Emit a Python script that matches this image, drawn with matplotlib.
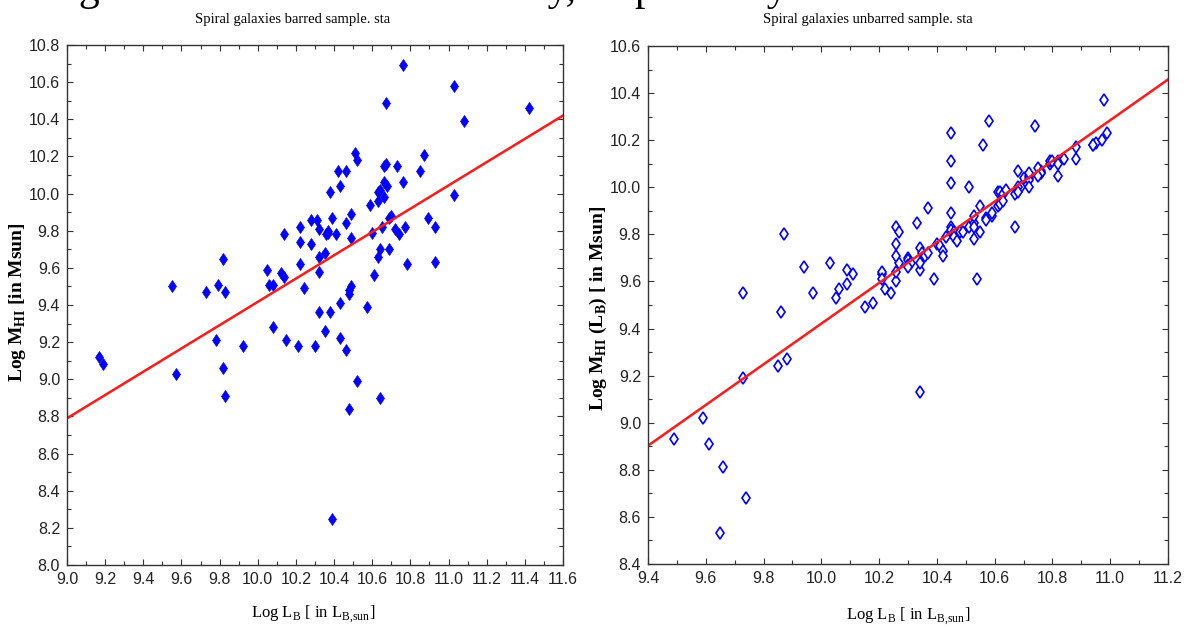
import numpy as np
import matplotlib.pyplot as plt
from matplotlib.ticker import MultipleLocator

# barred sample: log L_B, log M_HI
barred_logLB = [9.17, 9.19, 9.57, 9.78, 9.82, 9.83, 9.92, 10.08, 10.15, 10.21,
                9.55, 9.73, 9.79, 9.82, 9.83, 10.05, 10.06, 10.08, 10.12, 10.14,
                10.14, 10.22, 10.22, 10.22, 10.51, 10.52, 10.42, 10.46, 10.43, 10.38,
                10.66, 10.67, 10.73, 10.66, 10.68, 10.63, 10.64, 10.66, 10.63, 10.59,
                10.69, 10.70, 10.72, 10.74, 10.65, 10.60, 10.64, 10.69, 10.63, 10.61,
                10.57, 10.64, 10.52, 10.48, 10.49, 10.46, 10.49, 10.39, 10.37, 10.37,
                10.36, 10.41, 10.31, 10.28, 10.32, 10.28, 10.35, 10.32, 10.32, 10.24,
                10.49, 10.48, 10.48, 10.43, 10.38, 10.32, 10.35, 10.43, 10.46, 10.30,
                10.76, 10.67, 11.03, 11.08, 11.42, 10.87, 10.85, 10.76, 11.03, 10.89,
                10.93, 10.77, 10.78, 10.93, 10.39]
barred_logMHI = [9.12, 9.08, 9.03, 9.21, 9.06, 8.91, 9.18, 9.28, 9.21, 9.18,
                 9.50, 9.47, 9.51, 9.65, 9.47, 9.59, 9.51, 9.51, 9.57, 9.55,
                 9.78, 9.62, 9.74, 9.82, 10.22, 10.18, 10.12, 10.12, 10.04, 10.01,
                 10.15, 10.16, 10.15, 10.06, 10.04, 10.01, 10.02, 9.98, 9.96, 9.94,
                 9.87, 9.88, 9.81, 9.78, 9.82, 9.79, 9.70, 9.70, 9.66, 9.56,
                 9.39, 8.90, 8.99, 8.84, 9.89, 9.84, 9.76, 9.87, 9.80, 9.79,
                 9.78, 9.78, 9.86, 9.86, 9.81, 9.73, 9.68, 9.66, 9.58, 9.49,
                 9.50, 9.48, 9.46, 9.41, 9.36, 9.36, 9.26, 9.22, 9.16, 9.18,
                 10.69, 10.49, 10.58, 10.39, 10.46, 10.21, 10.12, 10.06, 9.99, 9.87,
                 9.82, 9.82, 9.62, 9.63, 8.25]

# unbarred sample
unbarred_logLB = [9.49, 9.59, 9.61, 9.66, 9.65, 9.74, 9.73, 9.85, 9.86, 9.88,
                  9.73, 9.87, 9.94, 9.97, 10.03, 10.05, 10.06, 10.09, 10.09, 10.11,
                  10.15, 10.18, 10.21, 10.21, 10.21, 10.22, 10.24, 10.26, 10.26, 10.27,
                  10.26, 10.26, 10.26, 10.27, 10.30, 10.30, 10.30, 10.31, 10.30, 10.34,
                  10.34, 10.34, 10.33, 10.37, 10.35, 10.36, 10.37, 10.39, 10.40, 10.41,
                  10.42, 10.42, 10.43, 10.45, 10.45, 10.45, 10.45, 10.45, 10.45, 10.46,
                  10.46, 10.47, 10.48, 10.49, 10.51, 10.51, 10.53, 10.53, 10.53, 10.53,
                  10.55, 10.55, 10.54, 10.56, 10.58, 10.57, 10.57, 10.59, 10.59, 10.61,
                  10.62, 10.63, 10.61, 10.62, 10.63, 10.64, 10.67, 10.68, 10.67, 10.68,
                  10.69, 10.70, 10.68, 10.68, 10.72, 10.72, 10.72, 10.72, 10.72, 10.74,
                  10.76, 10.76, 10.75, 10.76, 10.75, 10.79, 10.79, 10.80, 10.82, 10.82,
                  10.82, 10.84, 10.88, 10.88, 10.94, 10.95, 10.94, 10.97, 10.99, 10.98,
                  10.34]
unbarred_logMHI = [8.93, 9.02, 8.91, 8.81, 8.53, 8.68, 9.19, 9.24, 9.47, 9.27,
                   9.55, 9.80, 9.66, 9.55, 9.68, 9.53, 9.57, 9.65, 9.59, 9.63,
                   9.49, 9.51, 9.63, 9.64, 9.61, 9.57, 9.55, 9.60, 9.64, 9.68,
                   9.71, 9.76, 9.83, 9.81, 9.70, 9.69, 9.67, 9.68, 9.66, 9.65,
                   9.68, 9.74, 9.85, 9.91, 9.72, 9.71, 9.72, 9.61, 9.76, 9.75,
                   9.73, 9.71, 9.79, 10.23, 10.11, 10.02, 9.89, 9.83, 9.82, 9.81,
                   9.79, 9.77, 9.81, 9.81, 10.00, 9.83, 9.85, 9.83, 9.88, 9.78,
                   9.81, 9.92, 9.61, 10.18, 10.28, 9.87, 9.86, 9.88, 9.89, 9.98,
                   9.98, 9.97, 9.92, 9.93, 9.94, 9.99, 9.97, 10.07, 9.83, 9.99,
                   10.00, 10.04, 10.00, 9.98, 10.05, 10.04, 10.03, 10.06, 10.00, 10.26,
                   10.07, 10.06, 10.08, 10.06, 10.05, 10.10, 10.11, 10.11, 10.11, 10.10,
                   10.05, 10.12, 10.17, 10.12, 10.18, 10.19, 10.18, 10.20, 10.23, 10.37,
                   9.13]

# regression lines (slope, intercept)
barred_fit = (0.627, 3.147)
unbarred_fit = (0.864, 0.781)

serif = ['Liberation Serif', 'DejaVu Serif']
narrow = ['Liberation Sans Narrow', 'Liberation Sans', 'DejaVu Sans']

fig = plt.figure(figsize=(11.84, 6.29), dpi=100)
ax1 = fig.add_axes([67 / 1184, 1 - 565 / 629, 496 / 1184, 520 / 629])
ax2 = fig.add_axes([648 / 1184, 1 - 564 / 629, 520 / 1184, 518 / 629])


def style_axes(ax, xlim, ylim):
    ax.set_xlim(*xlim)
    ax.set_ylim(*ylim)
    ax.xaxis.set_major_locator(MultipleLocator(0.2))
    ax.xaxis.set_minor_locator(MultipleLocator(0.1))
    ax.yaxis.set_major_locator(MultipleLocator(0.2))
    ax.yaxis.set_minor_locator(MultipleLocator(0.1))
    ax.xaxis.set_major_formatter(lambda v, p: f'{v:.1f}')
    ax.yaxis.set_major_formatter(lambda v, p: f'{v:.1f}')
    ax.tick_params(which='both', direction='in', top=True, right=True,
                   color='#333333', width=0.8)
    ax.tick_params(which='major', length=4, labelsize=11.5, pad=5)
    ax.tick_params(which='minor', length=3)
    for lab in ax.get_xticklabels() + ax.get_yticklabels():
        lab.set_family(narrow)
        lab.set_color('#222222')
    for sp in ax.spines.values():
        sp.set_color('#333333')
        sp.set_linewidth(1.0)


# left: barred
ax1.plot(barred_logLB, barred_logMHI, linestyle='none', marker='d',
         markersize=6, color='#0000ff', markeredgewidth=0.5)
xs = np.array([9.0, 11.6])
ax1.plot(xs, barred_fit[0] * xs + barred_fit[1], color='#ff1a1a', lw=1.8)
style_axes(ax1, (9.0, 11.6), (8.0, 10.8))

# right: unbarred
ax2.plot(unbarred_logLB, unbarred_logMHI, linestyle='none', marker='d',
         markersize=6, markerfacecolor='white', markeredgecolor='#0000ff',
         markeredgewidth=1.2)
xs = np.array([9.4, 11.2])
ax2.plot(xs, unbarred_fit[0] * xs + unbarred_fit[1], color='#ff1a1a', lw=1.8)
style_axes(ax2, (9.4, 11.2), (8.4, 10.6))

# titles / labels
fig.text(293 / 1184, 1 - 19 / 629, 'Spiral galaxies barred sample. sta',
         ha='center', va='center', family=serif, fontsize=10.5)
fig.text(868 / 1184, 1 - 19 / 629, 'Spiral galaxies unbarred sample. sta',
         ha='center', va='center', family=serif, fontsize=10.5)

xlab = r'Log L$_\mathregular{B}$ [ in L$_\mathregular{B{,}sun}$]'
fig.text(313 / 1184, 1 - 614 / 629, xlab, ha='center', va='center',
         family=serif, fontsize=12)
fig.text(908 / 1184, 1 - 616 / 629, xlab, ha='center', va='center',
         family=serif, fontsize=12)

fig.text(18 / 1184, 1 - 302 / 629, r'Log M$_\mathregular{HI}$ [in Msun]',
         ha='center', va='center', rotation=90, family=serif,
         fontweight='bold', fontsize=14)
fig.text(598 / 1184, 1 - 308 / 629,
         r'Log M$_\mathregular{HI}$ (L$_\mathregular{B}$) [ in Msun]',
         ha='center', va='center', rotation=90, family=serif,
         fontweight='bold', fontsize=14)

# caption line from the page, cut off by the crop (only descenders show)
fig.text(58 / 1184, 1.0, 'ng the HI mass and luminosity, respectively',
         ha='left', va='baseline', family=serif, fontsize=30)

fig.savefig('out.png', dpi=100)
